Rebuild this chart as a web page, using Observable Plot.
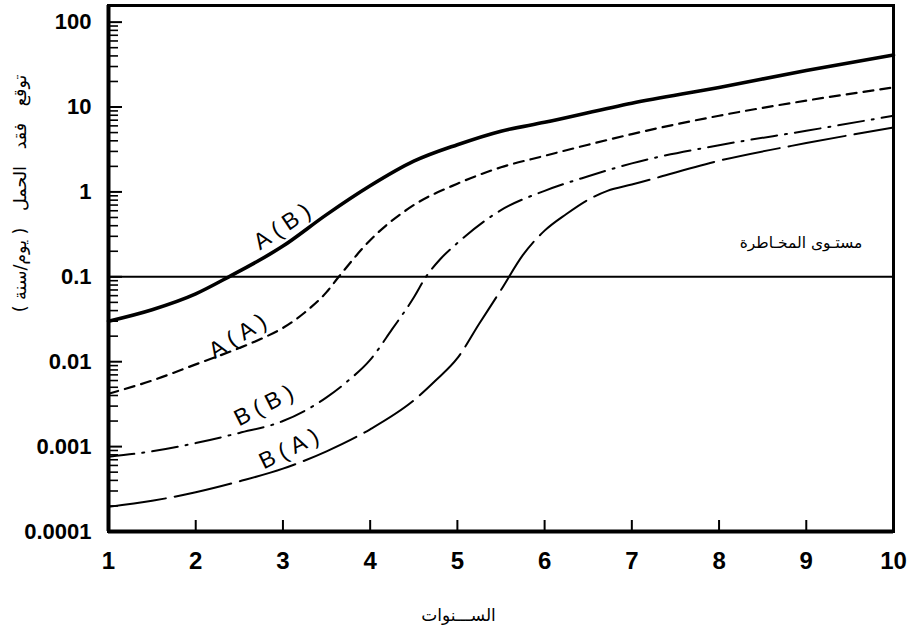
<!DOCTYPE html>
<html><head><meta charset="utf-8">
<script src="https://cdn.jsdelivr.net/npm/d3@7"></script>
<script src="https://cdn.jsdelivr.net/npm/@observablehq/plot@0.6"></script>
<style>body{margin:0;background:#fff} svg{display:block}</style>
</head><body><div id="chart"></div>
<script>
// ---- data ----
const xTicks = [1, 2, 3, 4, 5, 6, 7, 8, 9, 10];
const yTicks = [0.0001, 0.001, 0.01, 0.1, 1, 10, 100];
const yTickLabels = ["0.0001", "0.001", "0.01", "0.1", "1", "10", "100"];

// A(B) — thick solid
const abX = [1, 1.5, 2, 2.38, 3, 3.5, 4, 4.5, 5, 5.5, 6, 7, 8, 9, 10];
const abY = [0.030, 0.041, 0.063, 0.1, 0.23, 0.54, 1.18, 2.3, 3.6, 5.2, 6.6, 11.1, 17, 27, 41];
// A(A) — short dashes
const aaX = [1, 1.5, 2, 2.5, 2.75, 3, 3.25, 3.5, 3.64, 4, 4.5, 5, 5.5, 6, 6.5, 7, 8, 9, 10];
const aaY = [0.0042, 0.006, 0.0093, 0.0145, 0.0186, 0.025, 0.038, 0.066, 0.1, 0.27, 0.7, 1.25, 1.95, 2.66, 3.6, 4.8, 7.9, 11.9, 17];
// B(B) — dash-dot
const bbX = [1, 1.5, 2, 2.5, 3, 3.5, 3.75, 4, 4.25, 4.5, 4.64, 4.8, 5, 5.5, 6, 6.5, 7, 8, 9, 10];
const bbY = [0.00076, 0.00088, 0.0011, 0.00145, 0.002, 0.0038, 0.006, 0.0105, 0.024, 0.057, 0.1, 0.16, 0.25, 0.61, 1.03, 1.53, 2.17, 3.55, 5.25, 7.9];
// B(A) — long dashes
const baX = [1, 1.5, 2, 2.5, 3, 3.5, 4, 4.5, 4.75, 5, 5.25, 5.5, 5.75, 6, 6.25, 6.5, 6.72, 7, 8, 9, 10];
const baY = [0.000195, 0.00023, 0.00029, 0.00039, 0.00055, 0.00088, 0.0016, 0.0035, 0.006, 0.011, 0.028, 0.07, 0.18, 0.35, 0.55, 0.81, 1.03, 1.22, 2.33, 3.76, 5.74];

const riskLevel = 0.1;
const riskText = "مستـوى المخـاطرة";
const riskX = 8.94, riskY = 0.249;

const curveNames = ["A\u2005(\u2005B\u2005)", "A\u2005(\u2005A\u2005)", "B\u2005(\u2005B\u2005)", "B\u2005(\u2005A\u2005)"];
const labelX = [2.99, 2.48, 2.78, 3.07];
const labelY = [0.39, 0.02, 0.00305, 0.00094];
const labelAngle = [-34, -32, -27, -26];

const yTitle = "توقع\u00A0\u00A0\u00A0فقد\u00A0\u00A0\u00A0الحمل\u00A0\u00A0\u00A0(\u00A0يوم/سنة\u00A0)";
const xTitle = "الســـنوات";

// ---- build tables ----
const toRows = (xs, ys) => xs.map((x, i) => ({x, y: ys[i]}));
const labels = curveNames.map((t, i) => ({t, x: labelX[i], y: labelY[i], r: labelAngle[i]}));
const minorTicks = d3.scaleLog().domain([0.0001, 100]).ticks().filter(v => !yTicks.some(t => Math.abs(t - v) / t < 1e-6));
const RLM = "\u200F";

const numFont = "'Liberation Sans', Arial, sans-serif";
const arFont = "'DejaVu Sans', sans-serif";

const chart = Plot.plot({
  width: 914,
  height: 633,
  marginLeft: 108,
  marginRight: 21,
  marginTop: 5,
  marginBottom: 102,
  x: {domain: [1, 10]},
  y: {type: "log", domain: [0.0001, 157]},
  style: {fontFamily: numFont, background: "white", color: "black"},
  marks: [
    // inward ticks
    Plot.tickY(minorTicks, {y: d => d, insetRight: 785 - 10, strokeWidth: 1.6}),
    Plot.tickY(yTicks, {y: d => d, insetRight: 785 - 14, strokeWidth: 2}),
    Plot.tickX(xTicks.slice(1, -1), {x: d => d, insetTop: 526 - 11, strokeWidth: 2}),
    // tick labels
    Plot.axisY({ticks: yTicks, tickSize: 0, tickPadding: 17, label: null,
      tickFormat: d => yTickLabels[yTicks.indexOf(d)], fontSize: 22, fontWeight: "bold"}),
    Plot.axisX({ticks: xTicks, tickSize: 0, tickPadding: 20, label: null,
      tickFormat: d => String(d), fontSize: 24, fontWeight: "bold"}),
    // risk level
    Plot.ruleY([riskLevel], {strokeWidth: 2}),
    Plot.text([riskText], {x: () => riskX, y: () => riskY, text: d => RLM + d + RLM,
      fontFamily: arFont, fontSize: 15.5}),
    // curves
    Plot.line(toRows(baX, baY), {x: "x", y: "y", curve: "monotone-x", strokeWidth: 2, strokeDasharray: "58,9"}),
    Plot.line(toRows(bbX, bbY), {x: "x", y: "y", curve: "monotone-x", strokeWidth: 2, strokeDasharray: "26,8,2,8"}),
    Plot.line(toRows(aaX, aaY), {x: "x", y: "y", curve: "monotone-x", strokeWidth: 2.2, strokeDasharray: "10,7"}),
    Plot.line(toRows(abX, abY), {x: "x", y: "y", curve: "monotone-x", strokeWidth: 3.6}),
    // curve labels
    Plot.text(labels, {x: "x", y: "y", text: "t", rotate: "r", fontSize: 23, fontFamily: numFont}),
    // axis titles
    Plot.text([yTitle], {frameAnchor: "top-left", textAnchor: "middle", lineAnchor: "middle",
      dx: -88, dy: 188, rotate: -90,
      text: d => RLM + d + RLM, fontFamily: arFont, fontSize: 17.5}),
    Plot.text([xTitle], {frameAnchor: "bottom-left", textAnchor: "middle", lineAnchor: "middle",
      dx: 350, dy: 84,
      text: d => RLM + d + RLM, fontFamily: arFont, fontSize: 17}),
    // frame
    Plot.frame({strokeWidth: 3}),
    Plot.ruleX([1], {strokeWidth: 4}),
    Plot.ruleY([0.0001], {strokeWidth: 4})
  ]
});
document.getElementById("chart").append(chart);
</script>
</body></html>
